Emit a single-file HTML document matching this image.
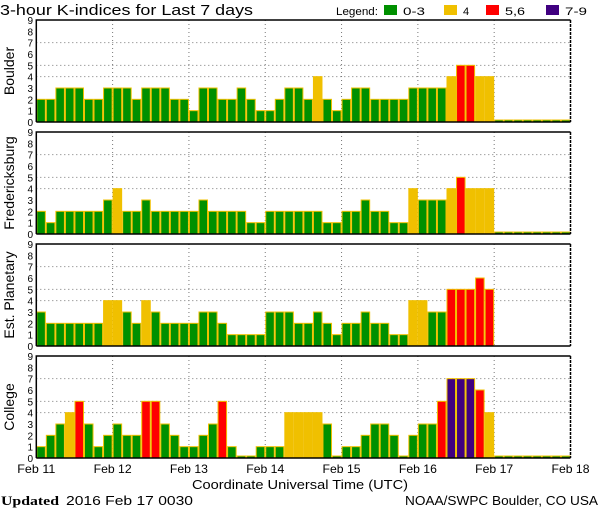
<!DOCTYPE html>
<html><head><meta charset="utf-8"><style>
html,body{margin:0;padding:0;background:#fff;}
svg{display:block;font-family:"Liberation Sans",sans-serif;}
</style></head><body>
<svg id="chart" width="600" height="510" viewBox="0 0 600 510" xmlns="http://www.w3.org/2000/svg">
<text x="0" y="15" font-size="15" textLength="253" lengthAdjust="spacingAndGlyphs">3-hour K-indices for Last 7 days</text>
<g font-size="11">
<text x="336" y="15" textLength="42" lengthAdjust="spacingAndGlyphs">Legend:</text>
<rect x="384" y="5" width="13" height="10" fill="#009000"/><text x="403" y="15" textLength="22" lengthAdjust="spacingAndGlyphs">0-3</text>
<rect x="444" y="5" width="13" height="10" fill="#f0c000"/><text x="463" y="15">4</text>
<rect x="486" y="5" width="13" height="10" fill="#ff0000"/><text x="505" y="15" textLength="20" lengthAdjust="spacingAndGlyphs">5,6</text>
<rect x="546" y="5" width="13" height="10" fill="#400080"/><text x="565" y="15" textLength="22" lengthAdjust="spacingAndGlyphs">7-9</text>
</g>
<g id="panels"></g>
<text x="192" y="489" font-size="13" textLength="216" lengthAdjust="spacingAndGlyphs">Coordinate Universal Time (UTC)</text>
<text x="1" y="505" font-size="13" font-family="Liberation Serif, serif"><tspan font-weight="bold" textLength="58" lengthAdjust="spacingAndGlyphs">Updated</tspan> <tspan x="66" font-family="Liberation Sans, sans-serif" textLength="127" lengthAdjust="spacingAndGlyphs">2016 Feb 17 0030</tspan></text>
<text x="405" y="505" font-size="13" textLength="193" lengthAdjust="spacingAndGlyphs">NOAA/SWPC Boulder, CO USA</text>
</svg>
<script>
const stations = ["Boulder","Fredericksburg","Est. Planetary","College"];
const dayLabels = ["Feb 11","Feb 12","Feb 13","Feb 14","Feb 15","Feb 16","Feb 17","Feb 18"];
const yTicks = [0,1,2,3,4,5,6,7,8,9];
const boulder = [2,2,3,3,3,2,2,3, 3,3,2,3,3,3,2,2, 1,3,3,2,2,3,2,1, 1,2,3,3,2,4,2,1, 2,3,3,2,2,2,2,3, 3,3,3,4,5,5,4,4, 0,0,0,0,0,0,0,0];
const fredericksburg = [2,1,2,2,2,2,2,3, 4,2,2,3,2,2,2,2, 2,3,2,2,2,2,1,1, 2,2,2,2,2,2,1,1, 2,2,3,2,2,1,1,4, 3,3,3,4,5,4,4,4, 0,0,0,0,0,0,0,0];
const planetary = [3,2,2,2,2,2,2,4, 4,3,2,4,3,2,2,2, 2,3,3,2,1,1,1,1, 3,3,3,2,2,3,2,1, 2,2,3,2,2,1,1,4, 4,3,3,5,5,5,6,5, null,null,null,null,null,null,null,null];
const college = [1,2,3,4,5,3,1,2, 3,2,2,5,5,3,2,1, 1,2,3,5,1,0,0,1, 1,1,4,4,4,4,3,0, 1,1,2,3,3,2,0,2, 3,3,5,7,7,7,6,4, 0,0,0,0,0,0,0,0];
const series = [boulder,fredericksburg,planetary,college];

const NS="http://www.w3.org/2000/svg";
const X0=36.3, X1=570.5, nDays=7, panelTops=[20,132,244,356], PH=102;
const dayW=(X1-X0)/nDays, barW=dayW/8;
function xScale(i){return X0+i*barW;}
function xDay(d){return X0+d*dayW;}
function yScale(v,top){return top+PH-v*PH/9;}
function color(v){return v>=7?"#400080":v>=5?"#ff0000":v>=4?"#f0c000":"#009000";}
function mk(tag,attrs,parent){const e=document.createElementNS(NS,tag);for(const k in attrs)e.setAttribute(k,attrs[k]);parent.appendChild(e);return e;}
const root=document.getElementById("panels");
series.forEach((vals,p)=>{
  const top=panelTops[p];
  const g=mk("g",{},root);
  
  
  [4,5,7].forEach(v=>{const l=mk("line",{x1:X0,x2:X1,y1:yScale(v,top),y2:yScale(v,top),stroke:"#777","stroke-dasharray":"1,3"},g);
    
    });
  for(let d=1;d<nDays;d++){const l=mk("line",{x1:xDay(d),x2:xDay(d),y1:top,y2:top+PH,stroke:"#777","stroke-dasharray":"1,3"},g);
    
    }
  vals.forEach((v,i)=>{
    if(v===null)return;
    const y=v===0?top+PH-2:yScale(v,top);
    const r=mk("rect",{x:xScale(i)+0.5,y:y,width:barW-1,height:top+PH-y,fill:color(v),stroke:"#f0c000","stroke-width":1},g);
    
    
  });
  const f=mk("path",{d:`M${X0} ${top+PH}V${top}H${X1}M${X0} ${top+PH}H${X1}`,stroke:"#000","stroke-width":1.5,fill:"none"},g);
  
  
  const rb=mk("line",{x1:X1,x2:X1,y1:top,y2:top+PH,stroke:"#000","stroke-width":1.5,"stroke-dasharray":"3,1"},g);
  
  
  yTicks.forEach(t=>{const tx=mk("text",{x:33,y:yScale(t,top)+4,"font-size":10,"text-anchor":"end"},g);tx.textContent=t;
    
    });
  const lab=mk("text",{transform:`translate(14 ${top+PH/2}) rotate(-90)`,"font-size":14,"text-anchor":"middle"},g);
  lab.textContent=stations[p];
  
  
});
dayLabels.forEach((s,d)=>{const t=mk("text",{x:xDay(d)-19,y:473,"font-size":12,textLength:38,lengthAdjust:"spacingAndGlyphs"},document.getElementById("chart"));t.textContent=s;
  
  });
</script>
</body></html>
